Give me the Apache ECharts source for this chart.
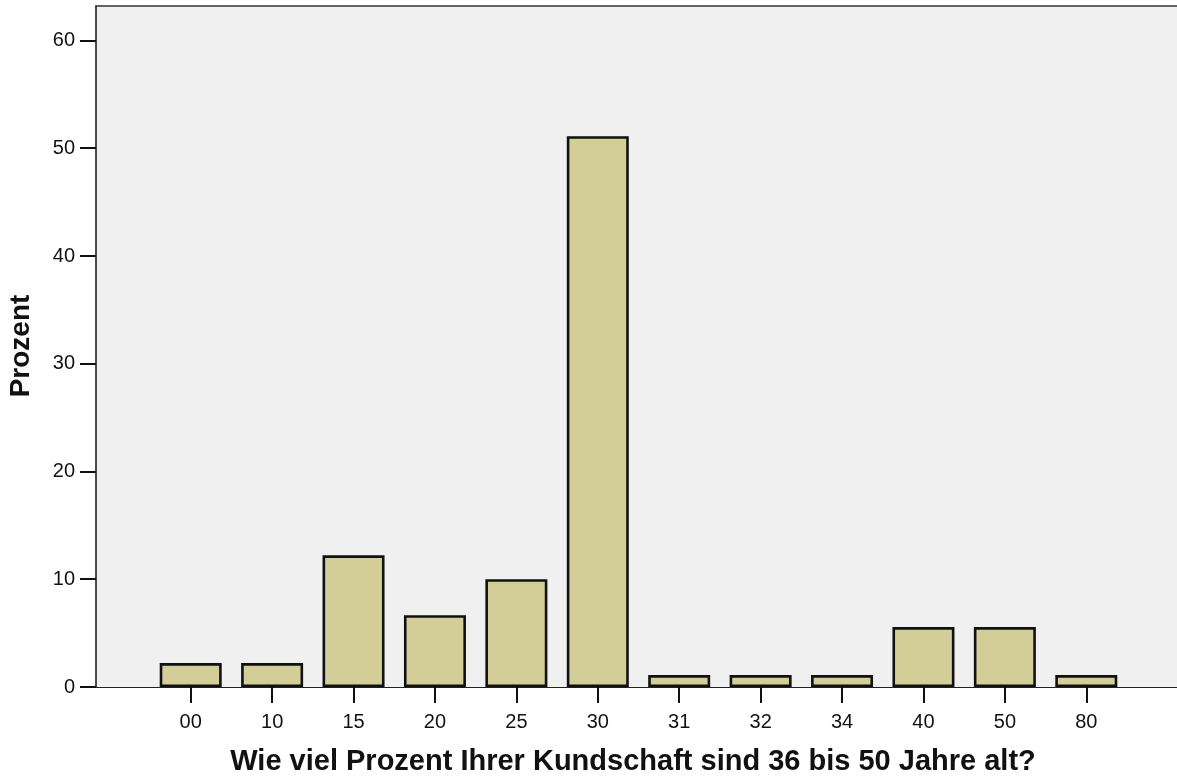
<!DOCTYPE html>
<html>
<head>
<meta charset="utf-8">
<script src="https://cdn.jsdelivr.net/npm/echarts@6/dist/echarts.min.js"></script>
<style>
  html, body { margin: 0; padding: 0; background: #ffffff; }
  #chart { width: 1177px; height: 781px; }
</style>
</head>
<body>
<div id="chart"></div>
<script>
// Answer categories and percentages (n = 90)
const categories = ['00', '10', '15', '20', '25', '30', '31', '32', '34', '40', '50', '80'];
const percentValues = [2.22, 2.22, 12.22, 6.67, 10.0, 51.11, 1.11, 1.11, 1.11, 5.56, 5.56, 1.11];
const yTicks = [0, 10, 20, 30, 40, 50, 60];
const yMax = 63.2;

const xTitle = 'Wie viel Prozent Ihrer Kundschaft sind 36 bis 50 Jahre alt?';
const yTitle = 'Prozent';

const FONT = 'Arial, "Liberation Sans", Helvetica, sans-serif';
const INK = '#111111';

const chart = echarts.init(document.getElementById('chart'), null, { renderer: 'canvas' });

const option = {
  backgroundColor: '#ffffff',
  animation: false,
  grid: [
    // plot frame with grey background
    { left: 96, right: 0, top: 6, bottom: 94, show: true, backgroundColor: '#f0f0f0', borderWidth: 0 },
    // inner grid that holds the category bars
    { left: 150, right: 50, top: 6, bottom: 94 }
  ],
  xAxis: [
    {
      gridIndex: 0, type: 'value', min: 0, max: 1, position: 'bottom',
      axisLine: { show: true, onZero: false, lineStyle: { color: '#222', width: 1.2 } },
      axisTick: { show: false }, axisLabel: { show: false }, splitLine: { show: false }
    },
    {
      gridIndex: 0, type: 'value', min: 0, max: 1, position: 'top',
      axisLine: { show: true, onZero: false, lineStyle: { color: '#333', width: 1.5 } },
      axisTick: { show: false }, axisLabel: { show: false }, splitLine: { show: false }
    },
    {
      gridIndex: 1, type: 'category', data: categories, position: 'bottom',
      axisLine: { show: false },
      axisTick: { show: true, alignWithLabel: true, interval: 0, length: 16, lineStyle: { color: INK, width: 2 } },
      axisLabel: { interval: 0, margin: 25, fontSize: 20, color: INK, fontFamily: FONT },
      splitLine: { show: false }
    }
  ],
  yAxis: [
    {
      gridIndex: 0, type: 'value', min: 0, max: yMax,
      axisLine: { show: true, lineStyle: { color: INK, width: 1.5 } },
      axisTick: { show: true, length: 16, customValues: yTicks, lineStyle: { color: INK, width: 2 } },
      axisLabel: {
        customValues: yTicks, margin: 21, fontSize: 20, color: INK, fontFamily: FONT,
        formatter: (v) => (yTicks.indexOf(v) >= 0 ? String(v) : '')
      },
      splitLine: { show: false }
    },
    { gridIndex: 1, type: 'value', min: 0, max: yMax, show: false }
  ],
  series: [
    {
      type: 'bar',
      xAxisIndex: 2,
      yAxisIndex: 1,
      data: percentValues,
      barWidth: 62,
      itemStyle: { color: '#d3ce97', borderColor: INK, borderWidth: 2.6 }
    }
  ],
  graphic: [
    {
      type: 'text', x: 633, y: 762,
      style: { text: xTitle, font: 'bold 29px ' + FONT, fill: INK, align: 'center', verticalAlign: 'middle' },
      z: 10
    },
    {
      type: 'text', x: 21, y: 346, rotation: Math.PI / 2,
      style: { text: yTitle, font: 'bold 28px ' + FONT, fill: INK, align: 'center', verticalAlign: 'middle' },
      z: 10
    }
  ]
};

chart.setOption(option);
</script>
</body>
</html>
